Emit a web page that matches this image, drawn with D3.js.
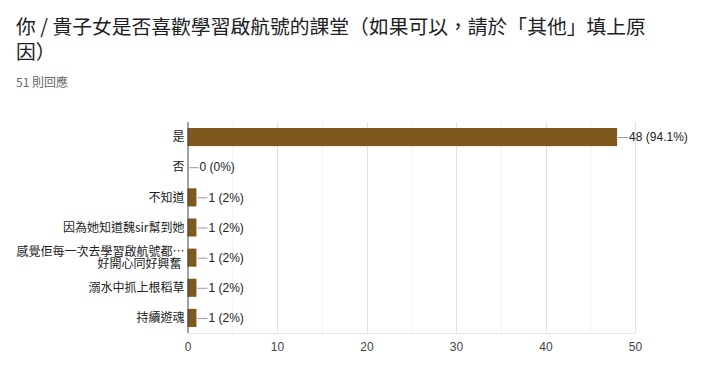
<!DOCTYPE html>
<html>
<head>
<meta charset="utf-8">
<script src="https://cdn.jsdelivr.net/npm/d3@7"></script>
<style>
  body { margin: 0; background: #fff; }
  svg text { font-family: "Noto Sans CJK TC", "Noto Sans", sans-serif; }
  svg text.num { font-family: "Liberation Sans", Arial, sans-serif; }
</style>
</head>
<body>
<div id="chart"></div>
<script>
const titleLines = ['你 / 貴子女是否喜歡學習啟航號的課堂（如果可以，請於「其他」填上原', '因）']
const subtitle = '51 則回應'

const categories = ['是', '否', '不知道', '因為她知道魏sir幫到她', '感覺佢每一次去學習啟航號都…|好開心同好興奮', '溺水中抓上根稻草', '持續遊魂']
const counts = [48, 0, 1, 1, 1, 1, 1]
const percents = ['94.1%', '0%', '2%', '2%', '2%', '2%', '2%']
const xTicks = [0, 10, 20, 30, 40, 50]

const width = 720,
    height = 366

let margin = {
    top: 122,
    right: 85,
    bottom: 33,
    left: 187.5
}

let svg = d3.select('#chart')
    .append('svg')
    .attr('width', width)
    .attr('height', height)

// title and response count
svg.append('g')
    .selectAll('text')
    .data(titleLines)
    .join('text')
    .attr('x', 16)
    .attr('y', (d, i) => 34 + i * 25)
    .attr('font-size', 19.8)
    .attr('fill', '#202124')
    .text(d => d)

svg.append('text')
    .attr('x', 16)
    .attr('y', 87)
    .attr('font-size', 12)
    .attr('fill', '#666')
    .text(subtitle)

let x = d3.scaleLinear()
    .domain([0, 50])
    .range([margin.left, width - margin.right])

let y = d3.scaleBand()
    .domain(categories)
    .range([margin.top, height - margin.bottom])
    .paddingInner(0.4)
    .paddingOuter(0.2)

// grid
svg.append('g')
    .selectAll('line')
    .data(d3.range(5, 50, 10))
    .join('line')
    .attr('x1', d => x(d) + 0.5)
    .attr('x2', d => x(d) + 0.5)
    .attr('y1', margin.top)
    .attr('y2', height - margin.bottom)
    .attr('stroke', '#f2f2f2')

svg.append('g')
    .selectAll('line')
    .data(xTicks.slice(1))
    .join('line')
    .attr('x1', d => Math.round(x(d)) + 0.5)
    .attr('x2', d => Math.round(x(d)) + 0.5)
    .attr('y1', margin.top)
    .attr('y2', height - margin.bottom)
    .attr('stroke', '#e0e0e0')

svg.append('line')
    .attr('x1', x(0))
    .attr('x2', x(50))
    .attr('y1', height - margin.bottom + 0.5)
    .attr('y2', height - margin.bottom + 0.5)
    .attr('stroke', '#e6e6e6')

let xAxis = svg.append('g')
    .attr('transform', `translate(0,${height - margin.bottom})`)
    .call(d3.axisBottom(x).tickValues(xTicks).tickSize(0).tickPadding(9))
xAxis.select('.domain').remove()
xAxis.selectAll('text')
    .attr('class', 'num')
    .attr('font-size', 12)
    .attr('fill', '#444')

// bars
svg.append('g')
    .selectAll('rect')
    .data(counts)
    .join('rect')
    .attr('x', x(0))
    .attr('y', (d, i) => y(categories[i]))
    .attr('width', d => x(d) - x(0))
    .attr('height', y.bandwidth())
    .attr('fill', '#7f581e')

svg.append('line')
    .attr('x1', x(0) + 0.5)
    .attr('x2', x(0) + 0.5)
    .attr('y1', margin.top)
    .attr('y2', height - margin.bottom)
    .attr('stroke', '#444')

// category labels
let labels = svg.append('g')
    .selectAll('text')
    .data(categories)
    .join('text')
    .attr('x', x(0) - 3)
    .attr('y', d => y(d) + y.bandwidth() / 2)
    .attr('text-anchor', 'end')
    .attr('font-size', 12)
    .attr('fill', '#222')

labels.each(function(d) {
    let parts = d.split('|')
    let t = d3.select(this)
    parts.forEach((p, i) => {
        t.append('tspan')
            .attr('x', x(0) - 3 - (i > 0 ? 3 : 0))
            .attr('dy', i == 0 ? (0.35 - (parts.length - 1) * 0.5) + 'em' : '1.05em')
            .text(p)
    })
})

// value labels
let valueG = svg.append('g')
    .selectAll('g')
    .data(counts)
    .join('g')
    .attr('transform', (d, i) => `translate(${x(d)},${y(categories[i]) + y.bandwidth() / 2})`)

valueG.append('line')
    .attr('x1', 1)
    .attr('x2', 11)
    .attr('y1', 0.5)
    .attr('y2', 0.5)
    .attr('stroke', '#999')

valueG.append('text')
    .attr('class', 'num')
    .attr('x', 12)
    .attr('dy', '0.35em')
    .attr('font-size', 12)
    .attr('fill', '#222')
    .text((d, i) => `${d} (${percents[i]})`)
</script>
</body>
</html>
